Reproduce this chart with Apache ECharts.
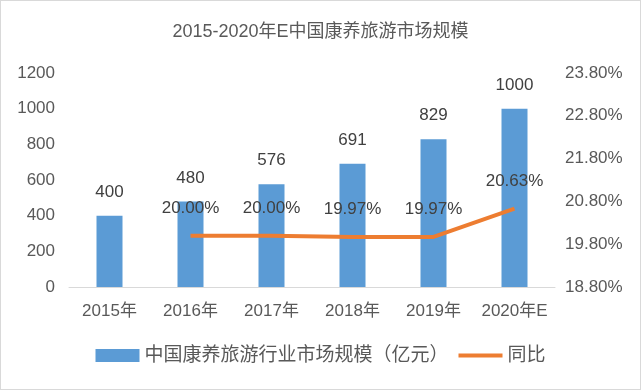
<!DOCTYPE html>
<html><head><meta charset="utf-8">
<script src="https://cdn.jsdelivr.net/npm/echarts@6/dist/echarts.min.js"></script>
<style>html,body{margin:0;padding:0;background:#fff}#c{width:639px;height:388px;border:1px solid #d9d9d9}</style>
</head><body><div id="c"></div>
<script>
const categories = ['2015年','2016年','2017年','2018年','2019年','2020年E'];
const marketSize = [400, 480, 576, 691, 829, 1000];
const yoy = [null, 20.00, 20.00, 19.97, 19.97, 20.63];
const barName = '中国康养旅游行业市场规模（亿元）';
const lineName = '同比';
const font = "'Liberation Sans','Noto Sans CJK SC',sans-serif";
const chart = echarts.init(document.getElementById('c'));
chart.setOption({
  animation: false,
  textStyle: {fontFamily: font},
  title: {text: '2015-2020年E中国康养旅游市场规模', left: 'center', top: 17,
    textStyle: {fontSize: 18, fontWeight: 'normal', color: '#595959', fontFamily: font}},
  grid: {left: 68, right: 85, top: 72, bottom: 102},
  legend: {bottom: 19, left: 'center', itemGap: 10, itemWidth: 44, itemHeight: 13,
    textStyle: {fontSize: 19, color: '#595959', fontFamily: font},
    data: [{name: barName, icon: 'rect'},
           {name: lineName, icon: 'path://M0,0 L44,0 L44,4 L0,4 Z', itemStyle: {color: '#ED7D31'}}]},
  xAxis: {type: 'category', data: categories,
    axisLine: {lineStyle: {color: '#d9d9d9'}}, axisTick: {show: false},
    axisLabel: {fontSize: 17, color: '#595959', margin: 16, interval: 0}},
  yAxis: [
    {type: 'value', min: 0, max: 1200, interval: 200, splitLine: {show: false},
      axisLabel: {fontSize: 17, color: '#595959', margin: 14, formatter: v => String(v)}},
    {type: 'value', min: 18.8, max: 23.8, interval: 1, splitLine: {show: false},
      axisLabel: {fontSize: 17, color: '#595959', margin: 10, formatter: v => v.toFixed(2) + '%'}}
  ],
  series: [
    {name: barName, type: 'bar', data: marketSize, barWidth: 26,
      itemStyle: {color: '#5B9BD5'},
      label: {show: true, position: 'top', distance: 15, fontSize: 17, color: '#404040'}},
    {name: lineName, type: 'line', yAxisIndex: 1, data: yoy, symbol: 'circle', symbolSize: 0.01,
      showSymbol: true,
      lineStyle: {color: '#ED7D31', width: 4}, itemStyle: {color: '#ED7D31'},
      label: {show: true, position: 'top', distance: 19, fontSize: 17, color: '#404040',
        formatter: p => p.value == null ? '' : Number(p.value).toFixed(2) + '%'}}
  ]
});
</script></body></html>
